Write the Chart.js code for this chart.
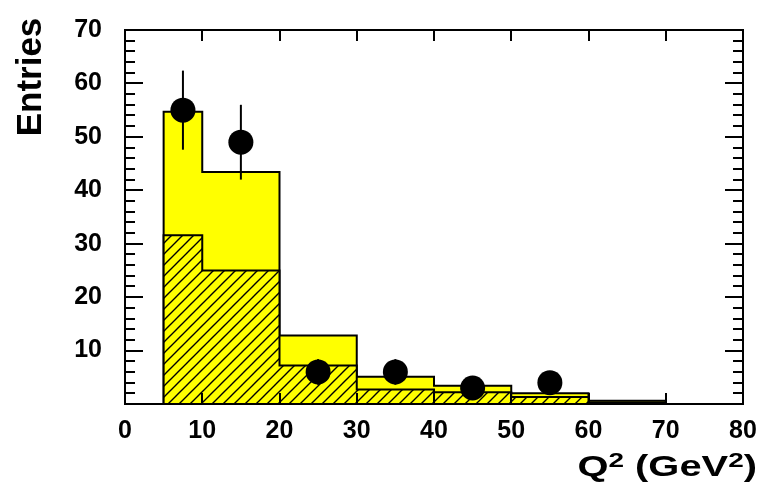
<!DOCTYPE html>
<html>
<head>
<meta charset="utf-8">
<script src="https://cdn.jsdelivr.net/npm/chart.js@4"></script>
<style>
  html, body { margin: 0; padding: 0; background: #fff; }
</style>
</head>
<body>
<canvas id="chart" width="761" height="485"></canvas>
<script>
// Q^2 bin edges (GeV^2)
const binEdges = [5, 10, 20, 30, 40, 50, 60, 70];
// Yellow histogram (total) and hatched component, per bin
const totalMC = [54.7, 43.4, 12.8, 5.1, 3.4, 2.0, 0.6];
const hatchedMC = [31.6, 25.0, 7.2, 2.7, 2.2, 1.3, 0.3];
// Data points with errors
const dataX = [7.5, 15, 25, 35, 45, 55];
const dataY = [55, 49, 6, 6, 3, 4];
const dataErr = [7.4, 7.0, 2.4, 2.4, 1.7, 2.0];

const FONT = '"Liberation Sans", Arial, sans-serif';

function stepPoints(values) {
    const pts = [{x: binEdges[0], y: 0}];
    values.forEach((v, i) => pts.push({x: binEdges[i], y: v}));
    pts.push({x: binEdges[binEdges.length - 1], y: 0});
    return pts;
}

const canvas = document.getElementById('chart');
const ctx = canvas.getContext('2d');

// hatch pattern: yellow with "/" lines
const pc = document.createElement('canvas');
pc.width = 11; pc.height = 11;
const p = pc.getContext('2d');
p.fillStyle = '#ffff00';
p.fillRect(0, 0, 11, 11);
p.strokeStyle = '#000';
p.lineWidth = 1.4;
p.beginPath();
p.moveTo(-1, 12); p.lineTo(12, -1);
p.moveTo(-6, 6); p.lineTo(6, -6);
p.moveTo(5, 17); p.lineTo(17, 5);
p.stroke();
const hatch = ctx.createPattern(pc, 'repeat');

// error bars
const errorBars = {
    id: 'errorBars',
    afterDatasetsDraw(chart) {
        const {x, y} = chart.scales;
        const c = chart.ctx;
        c.save();
        c.strokeStyle = '#000';
        c.lineWidth = 2;
        dataX.forEach((xv, i) => {
            const px = x.getPixelForValue(xv);
            c.beginPath();
            c.moveTo(px, y.getPixelForValue(dataY[i] - dataErr[i]));
            c.lineTo(px, y.getPixelForValue(dataY[i] + dataErr[i]));
            c.stroke();
        });
        c.restore();
    }
};

// frame with inward ticks, and axis titles
const frame = {
    id: 'frame',
    afterDraw(chart) {
        const {x, y} = chart.scales;
        const a = chart.chartArea;
        const c = chart.ctx;
        c.save();
        c.strokeStyle = '#000';
        c.lineWidth = 2;
        c.strokeRect(a.left, a.top, a.right - a.left, a.bottom - a.top);
        c.beginPath();
        for (let v = 2; v < 70; v += 2) {
            const py = Math.round(y.getPixelForValue(v));
            const len = v % 10 === 0 ? 18 : 10;
            c.moveTo(a.left, py); c.lineTo(a.left + len, py);
            c.moveTo(a.right, py); c.lineTo(a.right - len, py);
        }
        for (let v = 10; v < 80; v += 10) {
            const px = Math.round(x.getPixelForValue(v));
            c.moveTo(px, a.bottom); c.lineTo(px, a.bottom - 11);
            c.moveTo(px, a.top); c.lineTo(px, a.top + 11);
        }
        c.stroke();

        c.fillStyle = '#000';
        // y title
        c.save();
        c.translate(41, 77);
        c.rotate(-Math.PI / 2);
        c.textAlign = 'center';
        c.font = 'bold 35px ' + FONT;
        c.fillText('Entries', 0, 0);
        c.restore();

        // x title
        const parts = [['Q', 30, 0], ['2', 21, -9], [' (GeV', 30, 0], ['2', 21, -9], [')', 30, 0]];
        let total = 0;
        parts.forEach(pt => { c.font = 'bold ' + pt[1] + 'px ' + FONT; total += c.measureText(pt[0]).width; });
        c.save();
        c.translate(757, 476);
        c.scale(1.33, 1);
        let cx = -total;
        c.textAlign = 'left';
        parts.forEach(pt => {
            c.font = 'bold ' + pt[1] + 'px ' + FONT;
            c.fillText(pt[0], cx, pt[2]);
            cx += c.measureText(pt[0]).width;
        });
        c.restore();
        c.restore();
    }
};

const tickFont = {family: FONT, size: 25, weight: 'bold'};

new Chart(ctx, {
    type: 'line',
    data: {
        datasets: [
            {
                type: 'scatter',
                label: 'Data',
                data: dataX.map((xv, i) => ({x: xv, y: dataY[i]})),
                backgroundColor: '#000',
                borderWidth: 0,
                pointRadius: 12.5,
                order: 0
            },
            {
                label: 'Hatched',
                data: stepPoints(hatchedMC),
                stepped: 'before',
                borderColor: '#000',
                borderWidth: 2,
                backgroundColor: hatch,
                fill: 'origin',
                pointRadius: 0,
                order: 1
            },
            {
                label: 'Total',
                data: stepPoints(totalMC),
                stepped: 'before',
                borderColor: '#000',
                borderWidth: 2,
                backgroundColor: '#ffff00',
                fill: 'origin',
                pointRadius: 0,
                order: 2
            }
        ]
    },
    options: {
        responsive: false,
        animation: false,
        devicePixelRatio: 1,
        layout: { padding: { top: 17, right: 18, left: 0, bottom: 0 } },
        plugins: {
            legend: { display: false },
            tooltip: { enabled: false }
        },
        scales: {
            x: {
                type: 'linear',
                min: 0, max: 80,
                grid: { display: false },
                border: { display: false },
                ticks: { stepSize: 10, color: '#000', font: tickFont, padding: 4, maxRotation: 0 },
                afterFit: s => { s.height = 81; }
            },
            y: {
                type: 'linear',
                min: 0, max: 70,
                grid: { display: false },
                border: { display: false },
                ticks: { stepSize: 10, color: '#000', font: tickFont, padding: 15,
                         callback: v => v === 0 ? '' : v },
                afterFit: s => { s.width = 125; }
            }
        }
    },
    plugins: [errorBars, frame]
});
</script>
</body>
</html>
